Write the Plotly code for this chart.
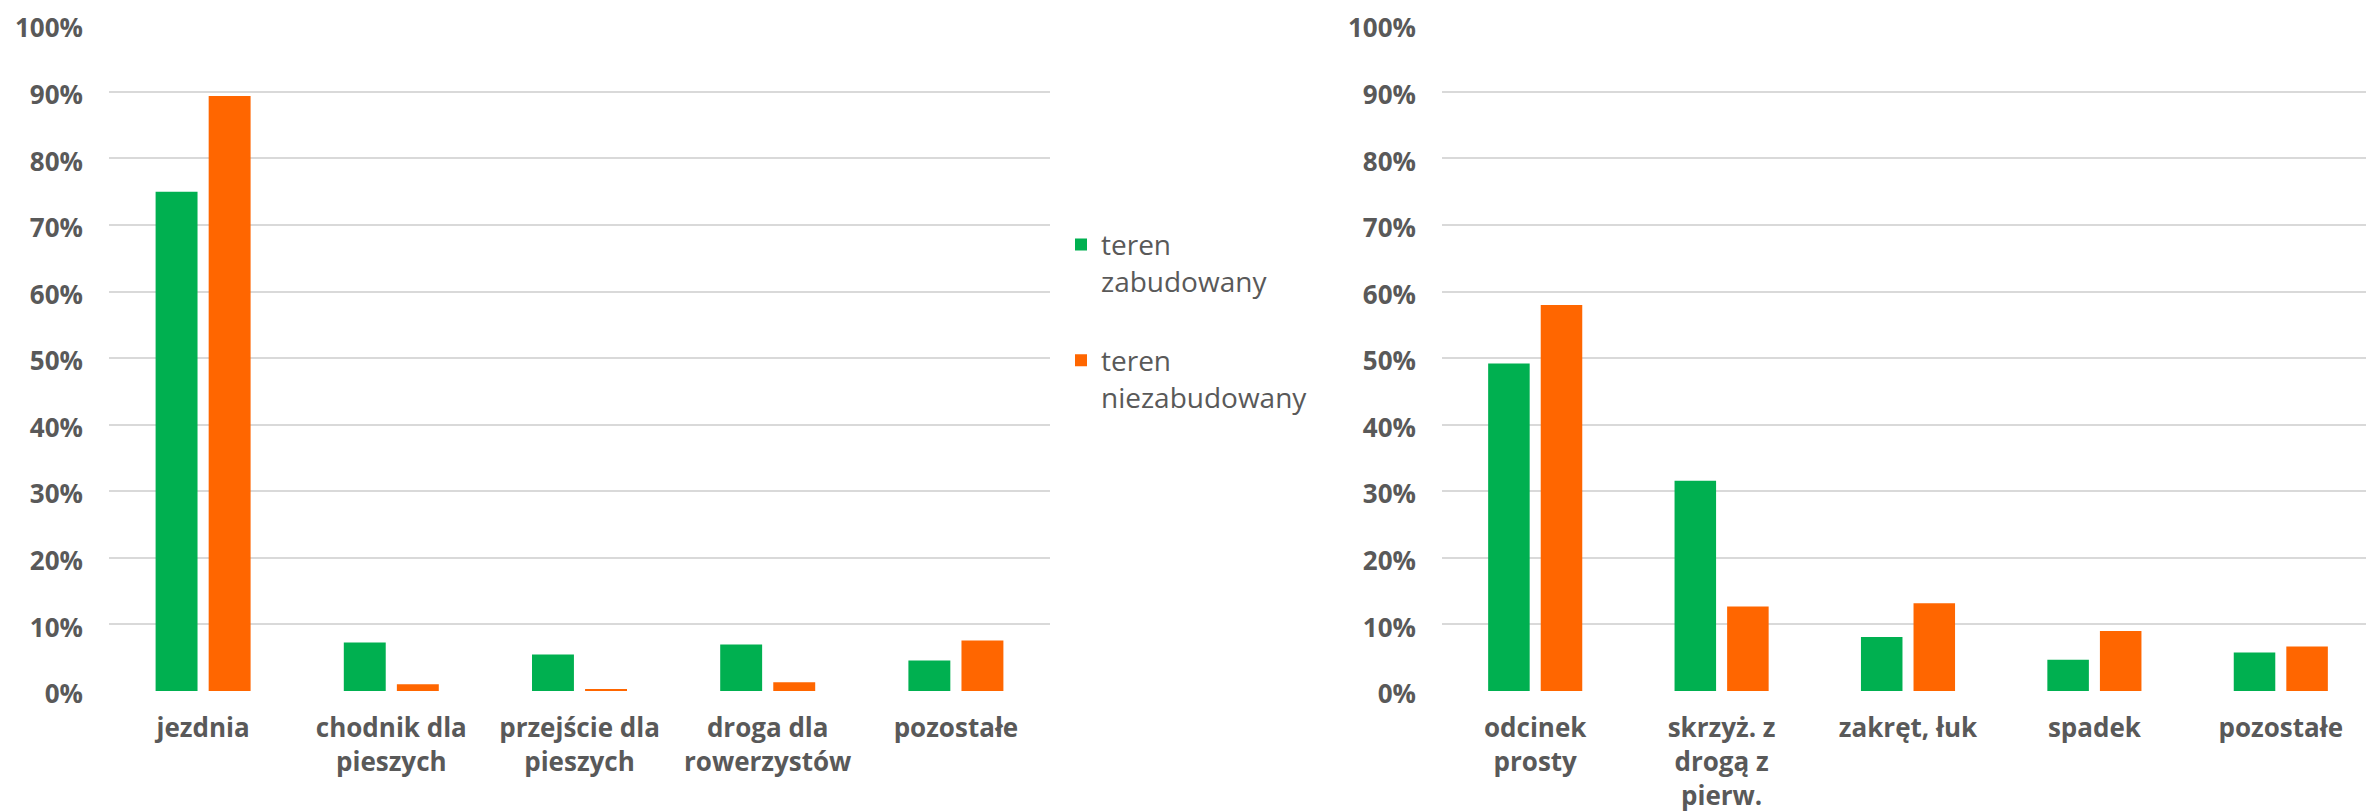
import plotly.graph_objects as go
from plotly.subplots import make_subplots

# ---- data ----
series_names = ["teren<br>zabudowany", "teren<br>niezabudowany"]

left_categories = ["jezdnia", "chodnik dla pieszych", "przejście dla pieszych",
                   "droga dla rowerzystów", "pozostałe"]
left_tick_labels = ["jezdnia", "chodnik dla<br>pieszych", "przejście dla<br>pieszych",
                    "droga dla<br>rowerzystów", "pozostałe"]
left_zabudowany = [0.750, 0.073, 0.055, 0.070, 0.046]
left_niezabudowany = [0.894, 0.010, 0.002, 0.013, 0.076]

right_categories = ["odcinek prosty", "skrzyż. z drogą z pierw.", "zakręt, łuk",
                    "spadek", "pozostałe"]
right_tick_labels = ["odcinek<br>prosty", "skrzyż. z<br>drogą z<br>pierw.", "zakręt, łuk",
                     "spadek", "pozostałe"]
right_zabudowany = [0.492, 0.316, 0.081, 0.047, 0.058]
right_niezabudowany = [0.580, 0.127, 0.132, 0.090, 0.067]

y_tick_vals = [0, 0.1, 0.2, 0.3, 0.4, 0.5, 0.6, 0.7, 0.8, 0.9, 1.0]

# ---- style ----
GREEN = "#00B050"
ORANGE = "#FF6600"
TEXT = "#595959"
GRID = "#D9D9D9"
FONT = "Open Sans"

# page body has an 8px default margin; size the figure to fill the rest
OFF = 8
W, H = 2374 - OFF, 812 - OFF
fig = make_subplots(rows=1, cols=2)

fig.add_trace(go.Bar(x=left_categories, y=left_zabudowany, name=series_names[0],
                     marker=dict(color=GREEN, line=dict(width=0)),
                     legendgroup="a", showlegend=True), row=1, col=1)
fig.add_trace(go.Bar(x=left_categories, y=left_niezabudowany, name=series_names[1],
                     marker=dict(color=ORANGE, line=dict(width=0)),
                     legendgroup="b", showlegend=True), row=1, col=1)
fig.add_trace(go.Bar(x=right_categories, y=right_zabudowany, name=series_names[0],
                     marker=dict(color=GREEN, line=dict(width=0)),
                     legendgroup="a", showlegend=False), row=1, col=2)
fig.add_trace(go.Bar(x=right_categories, y=right_niezabudowany, name=series_names[1],
                     marker=dict(color=ORANGE, line=dict(width=0)),
                     legendgroup="b", showlegend=False), row=1, col=2)

y_tick_font = dict(family=FONT, size=26, color=TEXT, weight="bold")
x_tick_font = dict(family=FONT, size=26, color=TEXT, weight="bold")

xaxis_common = dict(type="category", showgrid=False, zeroline=False, showline=False,
                    ticks="", tickfont=x_tick_font, ticklabelstandoff=19,
                    automargin=False, ticklabeloverflow="allow")
yaxis_common = dict(range=[0, 1.0005], tickvals=y_tick_vals, tickformat=".0%",
                    showgrid=True, gridcolor=GRID, gridwidth=2, zeroline=False,
                    showline=False, ticks="", tickfont=y_tick_font, ticklabelstandoff=25,
                    ticklabelshift=3,
                    automargin=False, ticklabeloverflow="allow")

fig.update_layout(
    width=W, height=H,
    margin=dict(l=0, r=0, t=25 - OFF, b=812 - 691),
    paper_bgcolor="white", plot_bgcolor="white",
    barmode="group", bargap=0.436, bargroupgap=0.21,
    font=dict(family=FONT, color=TEXT),
    xaxis=dict(domain=[(109 - OFF) / W, (1050 - OFF) / W], tickvals=left_categories,
               ticktext=left_tick_labels, **xaxis_common),
    xaxis2=dict(domain=[(1442 - OFF) / W, 1.0], tickvals=right_categories,
                ticktext=right_tick_labels, **xaxis_common),
    yaxis=dict(**yaxis_common),
    yaxis2=dict(**yaxis_common),
    legend=dict(x=1053 / W, xanchor="left", y=0.7075, yanchor="top",
                valign="top", tracegroupgap=40,
                font=dict(family=FONT, size=28, color=TEXT),
                bgcolor="rgba(0,0,0,0)"),
    hovermode=False,
)

fig.write_html("out.html")
